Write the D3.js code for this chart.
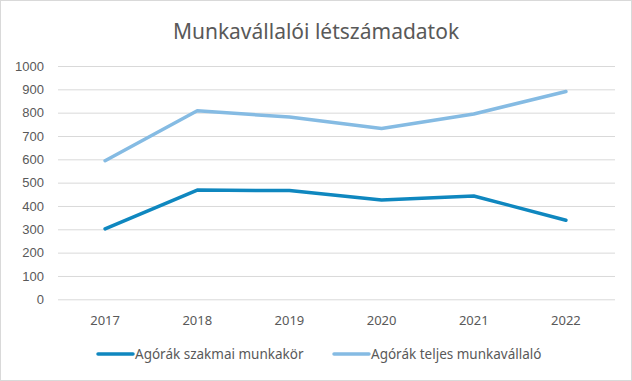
<!DOCTYPE html>
<html><head><meta charset="utf-8">
<script src="https://cdn.jsdelivr.net/npm/d3@7/dist/d3.min.js"></script>
<style>body{margin:0;background:#fff}svg{display:block}</style>
</head><body>
<script>
const years = ["2017","2018","2019","2020","2021","2022"];
const szakmai = [302, 468, 466, 426, 443, 339];
const teljes = [594, 808, 781, 732, 794, 891];
const seriesNames = ["Agórák szakmai munkakör","Agórák teljes munkavállaló"];
const yTicks = [0,100,200,300,400,500,600,700,800,900,1000];
const colors = ["#0F87BF","#85BBE3"];

const W=632,H=381;
const svg=d3.select("body").append("svg").attr("width",W).attr("height",H);
svg.append("rect").attr("x",0.5).attr("y",0.5).attr("width",W-1).attr("height",H-1)
  .attr("fill","#fff").attr("stroke","#D9D9D9");
const x=d3.scaleBand().domain(years).range([59,612]);
const y=d3.scaleLinear().domain([0,1000]).range([299.3,66]);

svg.append("text").attr("x",316).attr("y",39).attr("text-anchor","middle")
  .attr("font-family","Noto Sans, sans-serif").attr("font-size",21).attr("fill","#595959")
  .text("Munkavállalói létszámadatok");

const ga=svg.append("g").attr("transform","translate(58,0)")
  .call(d3.axisLeft(y).tickValues(yTicks).tickSize(-(615-58)).tickPadding(14).tickFormat(d3.format("d")));
ga.select(".domain").remove();
ga.selectAll("line").attr("stroke","#D9D9D9").attr("stroke-width",1);
ga.selectAll("text").attr("font-family","Liberation Sans, Arial, sans-serif").attr("font-size",13).attr("fill","#595959");

const gx=svg.append("g").attr("transform","translate(0,299.3)")
  .call(d3.axisBottom(x).tickSize(0).tickPadding(16));
gx.select(".domain").remove();
gx.selectAll("text").attr("font-family","Noto Sans, sans-serif").attr("font-size",13).attr("fill","#595959");

const line=d3.line().x((d,i)=>x(years[i])+x.bandwidth()/2).y(d=>y(d));
[szakmai,teljes].forEach((s,i)=>{
  svg.append("path").attr("d",line(s)).attr("fill","none").attr("stroke",colors[i])
    .attr("stroke-width",3.5).attr("stroke-linejoin","round").attr("stroke-linecap","round");
});

const legX=[98,334];
seriesNames.forEach((n,i)=>{
  svg.append("line").attr("x1",legX[i]).attr("x2",legX[i]+35).attr("y1",354).attr("y2",354)
    .attr("stroke",colors[i]).attr("stroke-width",3.5).attr("stroke-linecap","round");
  svg.append("text").attr("x",legX[i]+37).attr("y",359).attr("font-family","Noto Sans, sans-serif")
    .attr("font-size",13.5).attr("fill","#595959").text(n);
});
</script>
</body></html>
